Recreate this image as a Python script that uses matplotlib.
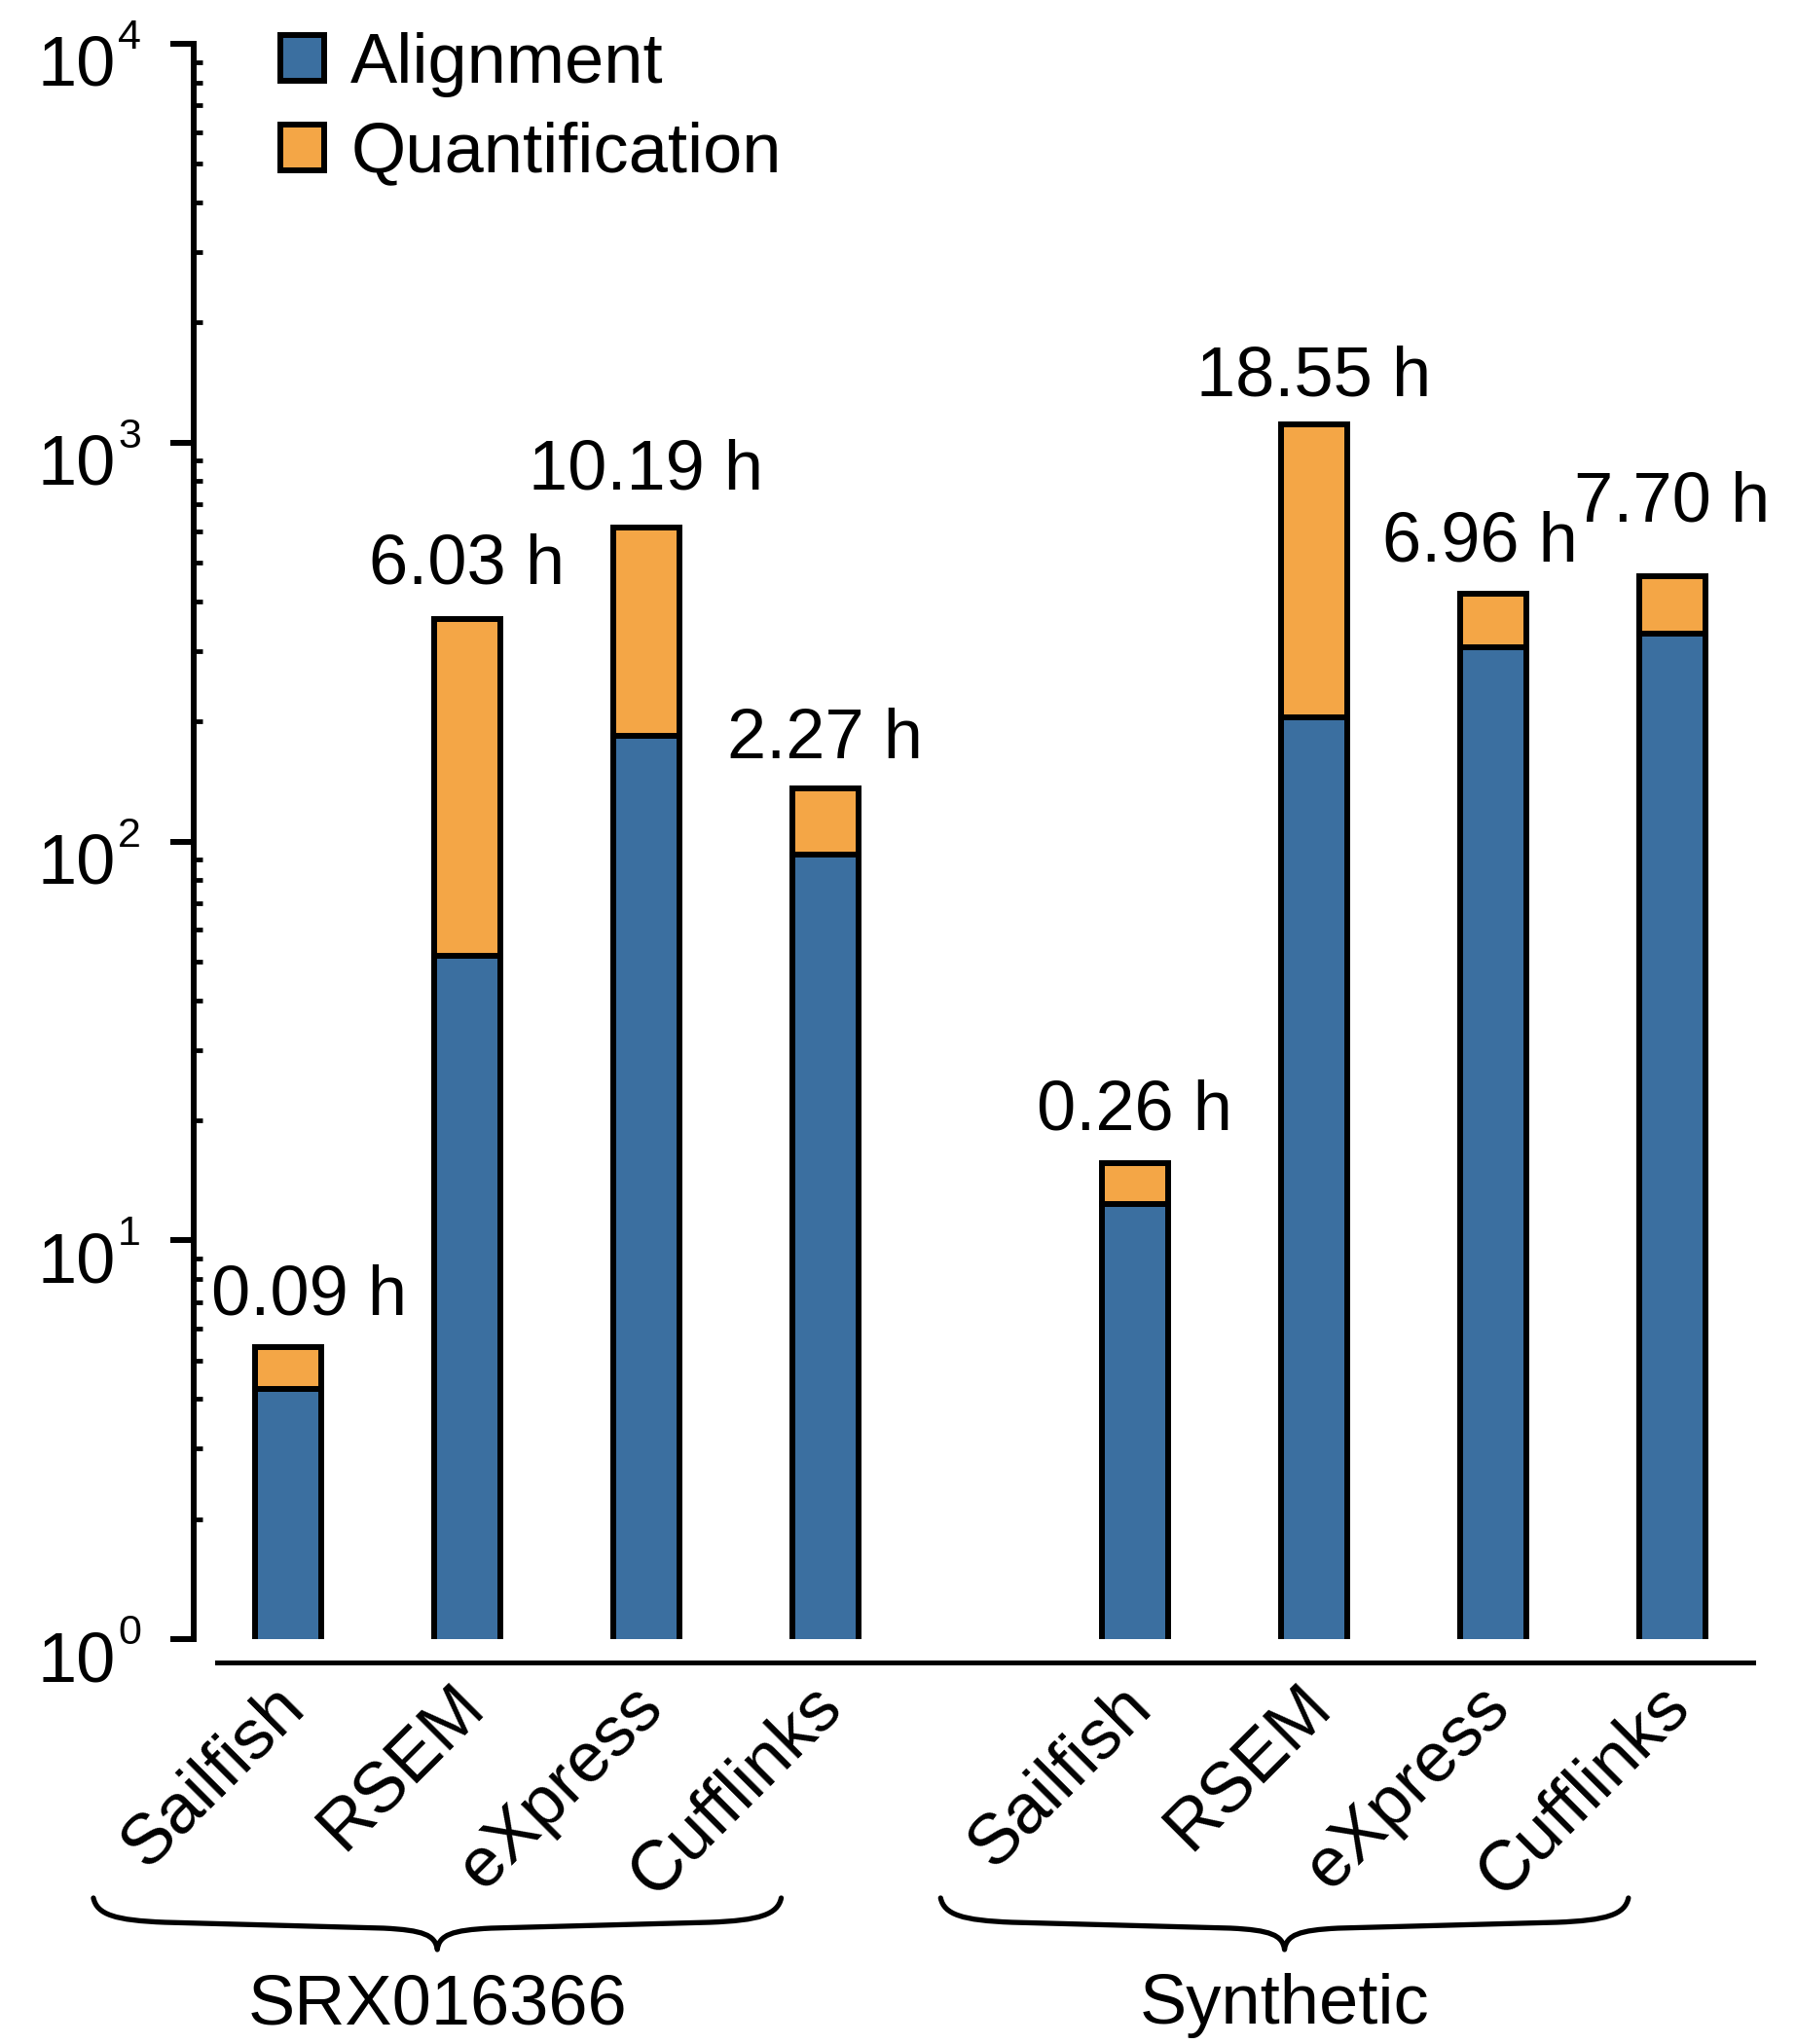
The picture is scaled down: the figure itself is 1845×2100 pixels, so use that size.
import matplotlib
matplotlib.use("Agg")
import matplotlib.pyplot as plt
import numpy as np
from matplotlib.path import Path
from matplotlib.patches import PathPatch
from matplotlib.transforms import blended_transform_factory, ScaledTranslation
from matplotlib.ticker import LogLocator, NullFormatter

plt.rcParams["font.family"] = ["Liberation Sans", "DejaVu Sans"]

# Runtime per tool, in minutes (alignment part) and total wall-clock hours
tools = ["Sailfish", "RSEM", "eXpress", "Cufflinks"]
datasets = ["SRX016366", "Synthetic"]
total_hours = [[0.09, 6.03, 10.19, 2.27],
               [0.26, 18.55, 6.96, 7.70]]
alignment_min = [[4.23, 51.8, 184.0, 92.8],
                 [12.3, 205.0, 306.0, 332.0]]

BLUE = "#3b6fa0"
ORANGE = "#f4a646"
DPI = 100
FS = 52

fig = plt.figure(figsize=(18.45, 21.0), dpi=DPI)
ax = fig.add_axes([199 / 1845, 1 - 1684 / 2100, (1832 - 199) / 1845, (1684 - 45) / 2100])

group_gap = 1.73
bar_w = 0.37
positions = []
for g in range(len(datasets)):
    positions.append([g * (len(tools) - 1 + group_gap) + i for i in range(len(tools))])

lw = 4.3
for g in range(len(datasets)):
    tot = np.array(total_hours[g]) * 60.0
    aln = np.array(alignment_min[g])
    quant = tot - aln
    ax.bar(positions[g], aln, width=bar_w, bottom=1e-3, color=BLUE, edgecolor="black",
           linewidth=lw, label="Alignment" if g == 0 else None, zorder=3)
    ax.bar(positions[g], quant, width=bar_w, bottom=aln, color=ORANGE, edgecolor="black",
           linewidth=lw, label="Quantification" if g == 0 else None, zorder=3)

ax.set_yscale("log")
ax.set_ylim(1, 1e4)
ax.set_xlim(-0.525, 8.35)

# value labels above each bar (offsets in points)
label_dx = [[16, 0, 0, 0], [0, 0, -10, 0]]
label_dy = [[24, 26, 29, 22], [25, 21, 24, 41]]
for g in range(len(datasets)):
    for i, x in enumerate(positions[g]):
        ax.annotate(f"{total_hours[g][i]:.2f} h", xy=(x, total_hours[g][i] * 60.0),
                    xytext=(label_dx[g][i], label_dy[g][i]), textcoords="offset points",
                    ha="center", va="baseline", fontsize=FS, annotation_clip=False)

# spines
for s in ["top", "right"]:
    ax.spines[s].set_visible(False)
ax.spines["left"].set_linewidth(lw)
ax.spines["left"].set_bounds(1, 1e4)
ax.spines["bottom"].set_linewidth(3.6)
ax.spines["bottom"].set_position(("outward", 17))
ax.spines["bottom"].set_bounds(-0.394, 8.18)

# y ticks: majors outward, minors inward
ax.yaxis.set_major_locator(LogLocator(base=10, numticks=10))
ax.yaxis.set_minor_locator(LogLocator(base=10, subs=np.arange(2, 10), numticks=20))
ax.yaxis.set_major_formatter(NullFormatter())
ax.yaxis.set_minor_formatter(NullFormatter())
ax.tick_params(axis="y", which="major", direction="out", length=17, width=lw)
ax.tick_params(axis="y", which="minor", direction="in", length=6.5, width=lw * 0.8)

# decade labels drawn as base + raised exponent
ytrans = blended_transform_factory(fig.transFigure, ax.transData)
for e in range(0, 5):
    ax.text(119 / 1845, 10 ** e, "10", fontsize=FS, ha="right", va="baseline",
            transform=ytrans + ScaledTranslation(0, -43 / DPI, fig.dpi_scale_trans))
    ax.text(121 / 1845, 10 ** e, str(e), fontsize=31, ha="left", va="baseline",
            transform=ytrans + ScaledTranslation(0, -5 / DPI, fig.dpi_scale_trans))

# x tick labels rotated
all_pos = [p for grp in positions for p in grp]
ax.set_xticks(all_pos)
ax.set_xticklabels(tools * len(datasets), rotation=45, ha="right", va="top",
                   rotation_mode="anchor", fontsize=FS)
ax.tick_params(axis="x", length=0, pad=8)
for lbl in ax.get_xticklabels():
    lbl.set_transform(lbl.get_transform() + ScaledTranslation(-17 / DPI, 0, fig.dpi_scale_trans))

# curly braces under each group
btrans = blended_transform_factory(ax.transData, fig.transFigure)
def fy(px):
    return 1 - px / 2100.0

for g in range(len(datasets)):
    c = np.mean(positions[g])
    tip = c - 0.665
    L, R = tip - 1.92, tip + 1.92
    verts = [
        (L, fy(1950)),
        (L + 0.02, fy(1967)), (L + 0.12, fy(1973)), (L + 0.4, fy(1975)),
        (tip - 0.3, fy(1981)),
        (tip - 0.08, fy(1983)), (tip - 0.01, fy(1988)), (tip, fy(2003)),
        (tip + 0.01, fy(1988)), (tip + 0.08, fy(1983)), (tip + 0.3, fy(1981)),
        (R - 0.4, fy(1975)),
        (R - 0.12, fy(1973)), (R - 0.02, fy(1967)), (R, fy(1950)),
    ]
    codes = [Path.MOVETO, Path.CURVE4, Path.CURVE4, Path.CURVE4, Path.LINETO,
             Path.CURVE4, Path.CURVE4, Path.CURVE4,
             Path.CURVE4, Path.CURVE4, Path.CURVE4, Path.LINETO,
             Path.CURVE4, Path.CURVE4, Path.CURVE4]
    ax.add_patch(PathPatch(Path(verts, codes), facecolor="none", edgecolor="black",
                           linewidth=3.8, transform=btrans, clip_on=False,
                           capstyle="round", joinstyle="round"))
    ax.text(tip, fy(2079), datasets[g], fontsize=FS, ha="center", va="baseline",
            transform=btrans)

leg = ax.legend(loc="upper left", bbox_to_anchor=(288 / 1845, 1 - 33 / 2100),
                bbox_transform=fig.transFigure, frameon=False, fontsize=FS,
                handlelength=0.62, handleheight=0.62, handletextpad=0.38,
                labelspacing=0.34, borderpad=0, borderaxespad=0)

fig.savefig("out.png", dpi=DPI)
